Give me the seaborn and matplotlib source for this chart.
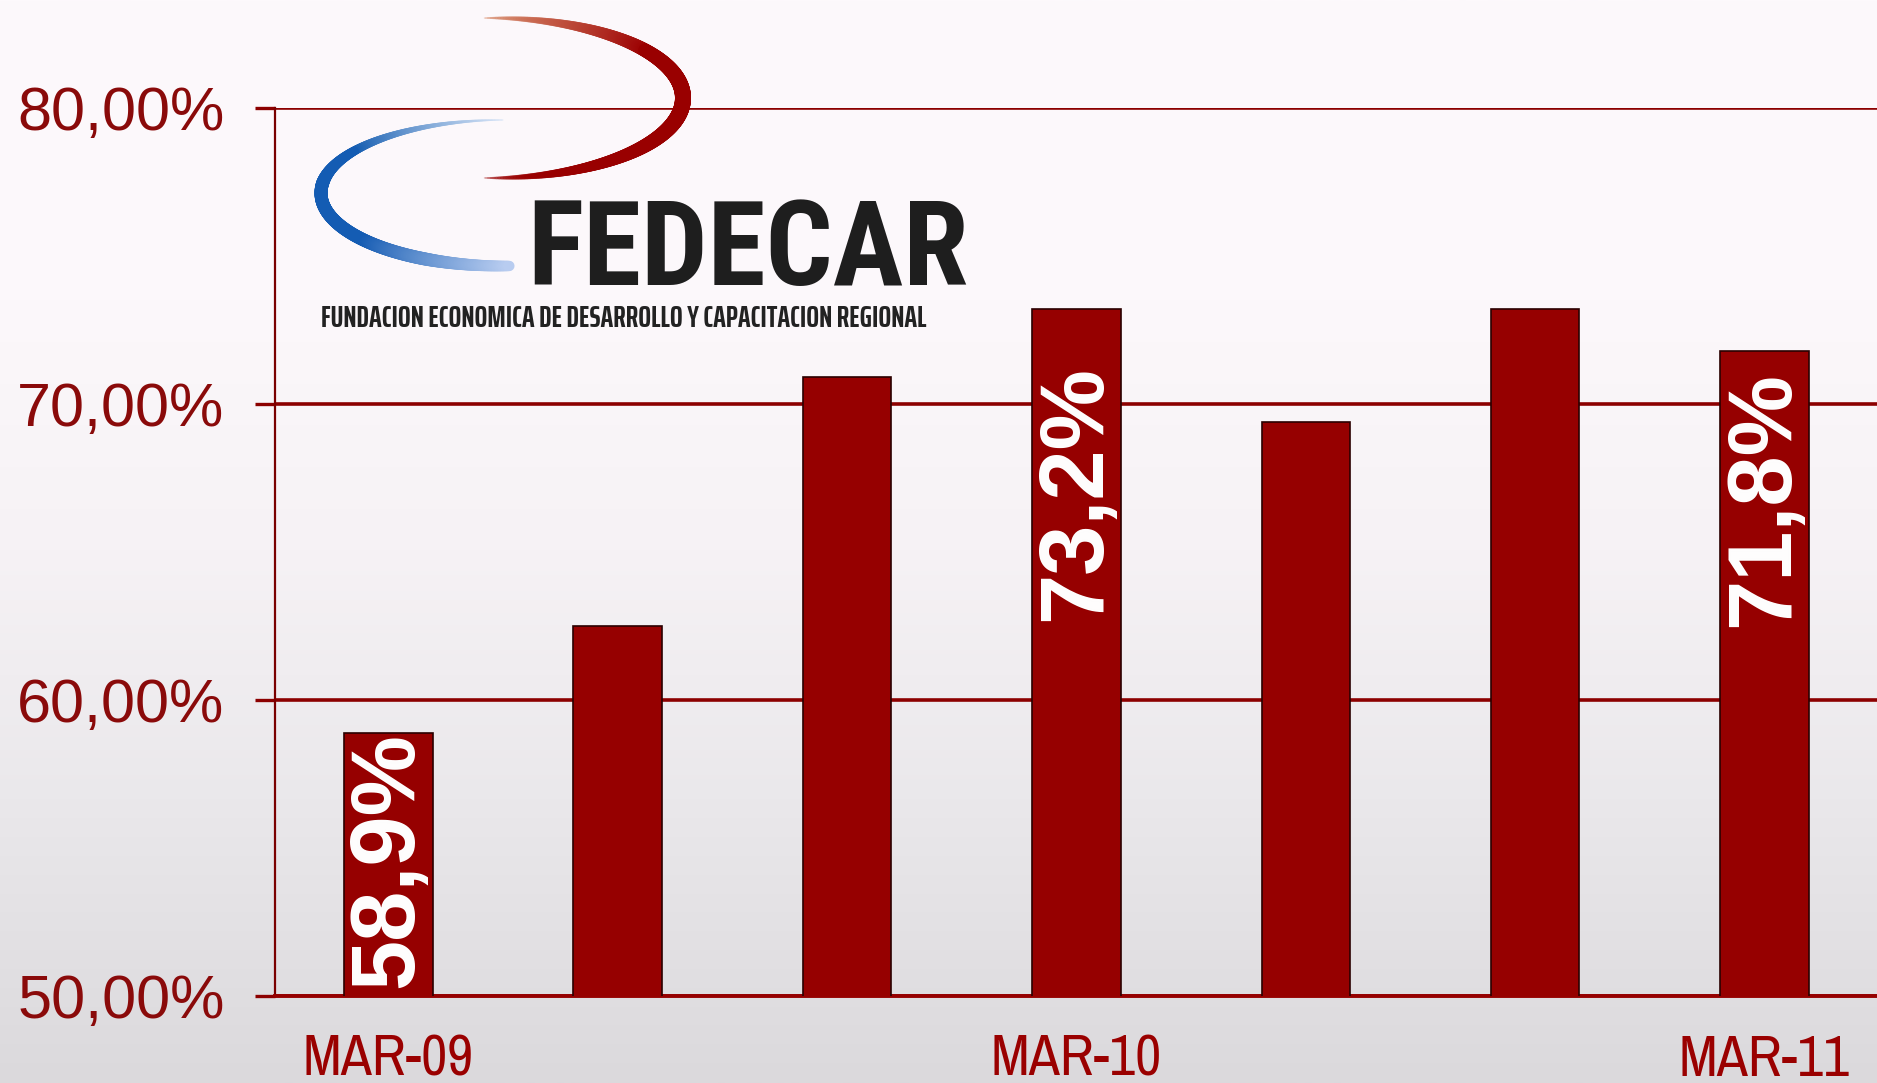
import numpy as np
import pandas as pd
import matplotlib
matplotlib.use("Agg")
import matplotlib.pyplot as plt
import seaborn as sns
from matplotlib.collections import LineCollection

# ---------------- data ----------------
periods = ["MAR-09", "JUL-09", "NOV-09", "MAR-10", "JUL-10", "NOV-10", "MAR-11"]
values = [58.9, 62.5, 70.9, 73.2, 69.4, 73.2, 71.8]
x_tick_labels = ["MAR-09", "", "", "MAR-10", "", "", "MAR-11"]
y_ticks = [50, 60, 70, 80]
y_tick_labels = ["50,00%", "60,00%", "70,00%", "80,00%"]
bar_labels = ["58,9%", "", "", "73,2%", "", "", "71,8%"]
logo_title = "FEDECAR"
logo_subtitle = "FUNDACION ECONOMICA DE DESARROLLO Y CAPACITACION REGIONAL"

# placement of the rotated value labels (centre, in data units)
label_centres = [54.6, None, None, 67.0, None, None, 66.8]

W, H, DPI = 1877, 1083, 100
sns.set_theme(style="white")
plt.rcParams["font.family"] = ["Liberation Sans", "DejaVu Sans"]
NARROW = ["Archivo Narrow", "Liberation Sans", "DejaVu Sans"]
LOGO = ["Roboto Condensed", "Liberation Sans", "DejaVu Sans"]
LOGO_SUB = ["Saira ExtraCondensed", "Barlow Condensed", "Liberation Sans", "DejaVu Sans"]

fig = plt.figure(figsize=(W / DPI, H / DPI), dpi=DPI)

# ---------------- background gradient ----------------
bg = fig.add_axes([0, 0, 1, 1], zorder=0)
stops = np.array([0, 300, 550, 800, 1083]) / H
cols = np.array([[253, 249, 252], [252, 248, 251], [246, 242, 245],
                 [234, 232, 235], [219, 217, 220]]) / 255.0
yy = np.linspace(0, 1, 500)
grad = np.stack([np.interp(yy, stops, cols[:, k]) for k in range(3)], axis=-1)[:, None, :]
bg.imshow(grad, aspect="auto", extent=[0, 1, 0, 1], origin="upper")
bg.set_axis_off()

# ---------------- main axes ----------------
ax = fig.add_axes([275 / W, 1 - 996 / H, 1 - 275 / W, (996 - 108) / H], zorder=1)
ax.patch.set_alpha(0)

df = pd.DataFrame({"period": periods, "value": values})
sns.barplot(data=df, x="period", y="value", color="#960000", saturation=1,
            width=0.386, edgecolor="#2a0000", linewidth=1.2, ax=ax, zorder=3)

ax.set_ylim(50, 80)
ax.set_xlim(-0.494, 6.49)
ax.set_yticks(y_ticks)
ax.set_yticklabels(y_tick_labels)
ax.set_xticks(range(len(periods)))
ax.set_xticklabels(x_tick_labels)
ax.set_xlabel("")
ax.set_ylabel("")

ax.grid(axis="y", color="#8c0000", lw=2.6)
ax.grid(axis="x", visible=False)
ax.set_axisbelow(True)
for s in ["top", "right"]:
    ax.spines[s].set_visible(False)
ax.spines["left"].set_color("#7a0000")
ax.spines["left"].set_linewidth(1.6)
ax.spines["bottom"].set_color("#960000")
ax.spines["bottom"].set_linewidth(2.8)

ax.tick_params(axis="y", left=True, length=14.4, width=2.4, color="#8c0000",
               pad=22, labelsize=44, labelcolor="#8a0a0a", direction="out")
ax.tick_params(axis="x", bottom=False, length=0, pad=27, labelsize=41,
               labelcolor="#9a0000")
for lab in ax.get_xticklabels():
    lab.set_fontfamily(NARROW)

for patch, lab, yc in zip(ax.patches, bar_labels, label_centres):
    if lab:
        ax.text(patch.get_x() + patch.get_width() / 2, yc, lab, rotation=90,
                ha="center", va="center", color="white", fontsize=65,
                fontweight="bold", zorder=5)

# ---------------- logo overlay ----------------
lg = fig.add_axes([0, 0, 1, 1], zorder=2)
lg.set_xlim(0, W)
lg.set_ylim(H, 0)
lg.set_axis_off()
lg.patch.set_alpha(0)


def arc(cx, cy, rx, ry, t0, t1, width_fn, color_fn, n=400):
    t = np.linspace(np.radians(t0), np.radians(t1), n)
    x = cx + rx * np.cos(t)
    y = cy - ry * np.sin(t)
    pts = np.column_stack([x, y]).reshape(-1, 1, 2)
    segs = np.concatenate([pts[:-1], pts[1:]], axis=1)
    s = np.linspace(0, 1, n - 1)
    lws = np.array([width_fn(v) for v in s]) * 0.72
    cs = [color_fn(v) for v in s]
    lc = LineCollection(segs, linewidths=lws, colors=cs, capstyle="round")
    lg.add_collection(lc)


def lerp(a, b, f):
    return tuple(np.array(a) + (np.array(b) - np.array(a)) * f)


# red arc (right half, top -> bottom)
def red_w(s):
    return 1.0 + 15.0 * np.sin(np.pi * s) ** 0.8


def red_c(s):
    if s < 0.3:
        c = lerp((0.85, 0.55, 0.42), (0.62, 0.02, 0.02), s / 0.3)
        a = 0.5 + 0.5 * s / 0.3
    else:
        c = (0.60, 0.0, 0.0)
        a = 1.0 if s < 0.85 else 1.0 - 0.6 * (s - 0.85) / 0.15
    return (*c, a)


arc(491, 98, 192, 80, 92, -92, red_w, red_c)


# blue arc (left half, top -> bottom)
def blue_w(s):
    w = 1.0 + 12.0 * min(s / 0.45, 1.0)
    if s > 0.85:
        w *= 1 - 0.2 * (s - 0.85) / 0.15
    return w


def blue_c(s):
    if s < 0.3:
        c = lerp((0.85, 0.9, 0.97), (0.1, 0.38, 0.70), s / 0.3)
    elif s < 0.72:
        c = (0.08, 0.36, 0.70)
    else:
        c = lerp((0.08, 0.36, 0.70), (0.72, 0.80, 0.94), (s - 0.72) / 0.28)
    return (*c, 1.0)


arc(503, 193, 182, 73, 90, 272, blue_w, blue_c)

t_title = lg.text(527, 285, logo_title, ha="left", va="baseline", fontsize=85,
                  fontweight="bold", color="#1e1e1e", family=LOGO)
t_sub = lg.text(321, 327, logo_subtitle, ha="left", va="baseline", fontsize=16,
                fontweight="bold", color="#222222", family=LOGO_SUB)

fig.canvas.draw()
r = fig.canvas.get_renderer()
for txt, target in [(t_sub, 610)]:
    w = txt.get_window_extent(r).width
    txt.set_fontsize(txt.get_fontsize() * target / w)

fig.savefig("out.png", dpi=DPI)
